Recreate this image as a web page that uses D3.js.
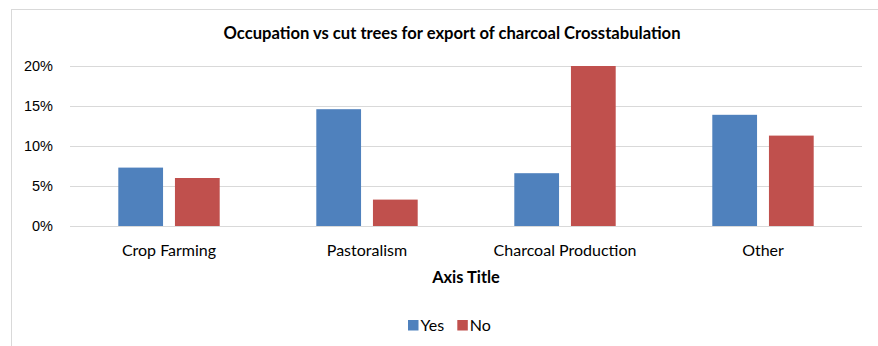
<!DOCTYPE html>
<html>
<head>
<meta charset="utf-8">
<script src="https://cdn.jsdelivr.net/npm/d3@7"></script>
<style>
  html, body { margin: 0; padding: 0; background: #fff; }
  svg { display: block; font-family: Lato, "Open Sans", sans-serif; }
</style>
</head>
<body>
<div id="chart"></div>
<script>
// Occupation vs cut trees for export of charcoal (clustered column, Excel style)
const CATEGORIES = ['Crop Farming', 'Pastoralism', 'Charcoal Production', 'Other'];
const SERIES = ['Yes', 'No'];
const YES_VALUES = [7.3, 14.6, 6.6, 13.9];
const NO_VALUES = [6.0, 3.3, 20.0, 11.3];
const Y_TICKS = [0, 5, 10, 15, 20];

const COLORS = { Yes: '#4F81BD', No: '#C0504D' };
const W = 878, H = 346;
const PLOT = { left: 70, right: 862, top: 66, bottom: 226 };

const svg = d3.select('#chart').append('svg')
  .attr('width', W)
  .attr('height', H);

// chart frame (only top and left edges fall inside the picture)
svg.append('rect')
  .attr('x', 11.5).attr('y', 9.5)
  .attr('width', W + 20).attr('height', H + 20)
  .attr('fill', 'none')
  .attr('stroke', '#d9d9d9');

const x0 = d3.scaleBand()
  .domain(CATEGORIES)
  .range([PLOT.left, PLOT.right])
  .padding(0);

const groupW = 101.4;
const x1 = d3.scaleBand()
  .domain(SERIES)
  .range([(x0.bandwidth() - groupW) / 2, (x0.bandwidth() + groupW) / 2])
  .paddingInner(0.21)
  .paddingOuter(0);

const y = d3.scaleLinear()
  .domain([0, 20])
  .range([PLOT.bottom, PLOT.top]);

// gridlines + y labels
const yAxis = svg.append('g')
  .attr('transform', `translate(${PLOT.left},0)`)
  .call(d3.axisLeft(y).tickValues(Y_TICKS).tickSize(-(PLOT.right - PLOT.left)).tickPadding(17).tickFormat(d => d + '%'));
yAxis.select('.domain').remove();
yAxis.selectAll('.tick line').attr('stroke', '#d9d9d9');
yAxis.selectAll('.tick text')
  .attr('fill', '#000')
  .style('font-size', '14.5px');

// bars
const rows = CATEGORIES.map((c, i) => ({ cat: c, Yes: YES_VALUES[i], No: NO_VALUES[i] }));
const groups = svg.append('g').selectAll('g')
  .data(rows)
  .join('g')
  .attr('transform', d => `translate(${x0(d.cat)},0)`);

groups.selectAll('rect')
  .data(d => SERIES.map(s => ({ s, v: d[s] })))
  .join('rect')
  .attr('x', d => x1(d.s))
  .attr('y', d => y(d.v))
  .attr('width', x1.bandwidth())
  .attr('height', d => y(0) - y(d.v))
  .attr('fill', d => COLORS[d.s]);

// category labels
svg.append('g').selectAll('text')
  .data(CATEGORIES)
  .join('text')
  .attr('x', d => x0(d) + x0.bandwidth() / 2)
  .attr('y', 256)
  .attr('text-anchor', 'middle')
  .style('font-size', '16px')
  .text(d => d);

// title
svg.append('text')
  .attr('x', 452)
  .attr('y', 39)
  .attr('text-anchor', 'middle')
  .style('font-size', '16.6px')
  .style('font-weight', 'bold')
  .text('Occupation vs cut trees for export of charcoal Crosstabulation');

// axis title
svg.append('text')
  .attr('x', 466)
  .attr('y', 283)
  .attr('text-anchor', 'middle')
  .style('font-size', '16.4px')
  .style('font-weight', 'bold')
  .text('Axis Title');

// legend
const legend = svg.append('g').attr('transform', 'translate(408,320)');
const legendItems = [{ s: 'Yes', dx: 0 }, { s: 'No', dx: 49.3 }];
legendItems.forEach(it => {
  const g = legend.append('g').attr('transform', `translate(${it.dx},0)`);
  g.append('rect').attr('width', 10.5).attr('height', 10.5).attr('fill', COLORS[it.s]);
  g.append('text').attr('x', 12.5).attr('y', 10.8).style('font-size', '16px').text(it.s);
});
</script>
</body>
</html>
